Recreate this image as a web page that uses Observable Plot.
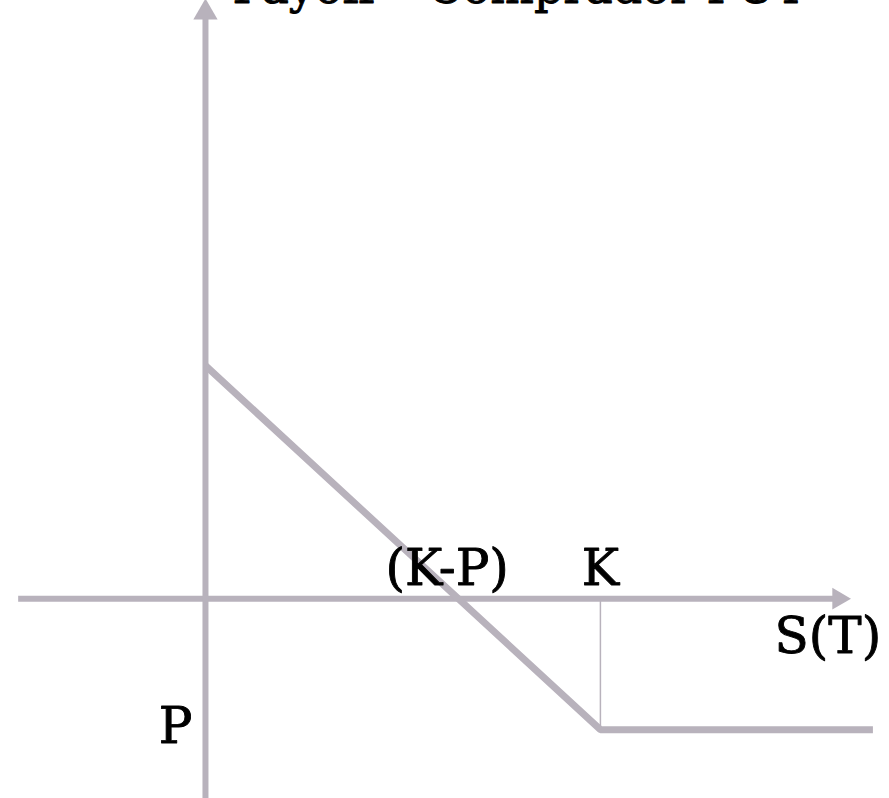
<!DOCTYPE html>
<html>
<head>
<meta charset="utf-8">
<script src="https://cdn.jsdelivr.net/npm/d3@7"></script>
<script src="https://cdn.jsdelivr.net/npm/@observablehq/plot@0.6"></script>
<style>
  html, body { margin: 0; padding: 0; background: #fff; }
  #chart svg { display: block; }
</style>
</head>
<body>
<div id="chart"></div>
<script>
// ---- data ----
const strike = 100;          // K
const premium = 36;          // P
const spotPoints = [0, 100, 169];        // S(T) points of the payoff line
const payoffPoints = [64, -36, -36];     // long put payoff at those points
const xDomain = [-51.9, 173.2];
const yDomain = [-54.9, 164.3];
const xAxisSpan = [-47.3, 160.3];        // horizontal axis extent (arrow at end)
const yAxisSpan = [-54.9, 161];          // vertical axis extent (arrow at end)
const titleText = "Payoff – Comprador PUT";
const labelKP = "(K-P)";
const labelK = "K";
const labelS = "S(T)";
const labelP = "P";

const axisColor = "#b8b2bc";
const payoff = spotPoints.map((s, i) => ({s, v: payoffPoints[i]}));
const font = "DejaVu Serif";
const labelStyle = {fontSize: 50, fill: "#000", stroke: "#000", strokeWidth: 0.9};

const chart = Plot.plot({
  width: 889,
  height: 798,
  margin: 0,
  x: {domain: xDomain, axis: null},
  y: {domain: yDomain, axis: null},
  style: {background: "#fff", fontFamily: font},
  marks: [
    // horizontal axis
    Plot.ruleY([0], {x1: xAxisSpan[0], x2: xAxisSpan[1], stroke: axisColor, strokeWidth: 6}),
    Plot.dot([{x: xAxisSpan[1], y: 0}], {x: "x", y: "y", symbol: "triangle", r: 8, rotate: 90, fill: axisColor, stroke: "none"}),
    // vertical axis
    Plot.ruleX([0], {y1: yAxisSpan[0], y2: yAxisSpan[1], stroke: axisColor, strokeWidth: 6}),
    Plot.dot([{x: 0, y: yAxisSpan[1]}], {x: "x", y: "y", symbol: "triangle", r: 9, fill: axisColor, stroke: "none"}),
    // thin drop line at K
    Plot.ruleX([strike], {y1: 0, y2: -premium, stroke: axisColor, strokeWidth: 1.5}),
    // payoff line
    Plot.line(payoff, {x: "s", y: "v", stroke: axisColor, strokeWidth: 7, strokeLinecap: "butt", strokeLinejoin: "miter"}),
    // labels
    Plot.text([labelKP], {x: strike - premium, y: 0, text: d => d, dx: -11, dy: -14, lineAnchor: "bottom", ...labelStyle}),
    Plot.text([labelK], {x: strike, y: 0, text: d => d, dy: -14, lineAnchor: "bottom", ...labelStyle}),
    Plot.text([labelS], {x: 157.6, y: 0, text: d => d, dy: 54, lineAnchor: "bottom", ...labelStyle}),
    Plot.text([labelP], {x: 0, y: -premium, text: d => d, dx: -30, dy: 13, lineAnchor: "bottom", ...labelStyle}),
    // title (mostly cut off at the top, as in the reference)
    Plot.text([titleText], {frameAnchor: "top-left", text: d => d, dx: 232, dy: 2, lineAnchor: "bottom", textAnchor: "start", ...labelStyle, fontSize: 46})
  ]
});
document.getElementById("chart").appendChild(chart);
</script>
</body>
</html>
